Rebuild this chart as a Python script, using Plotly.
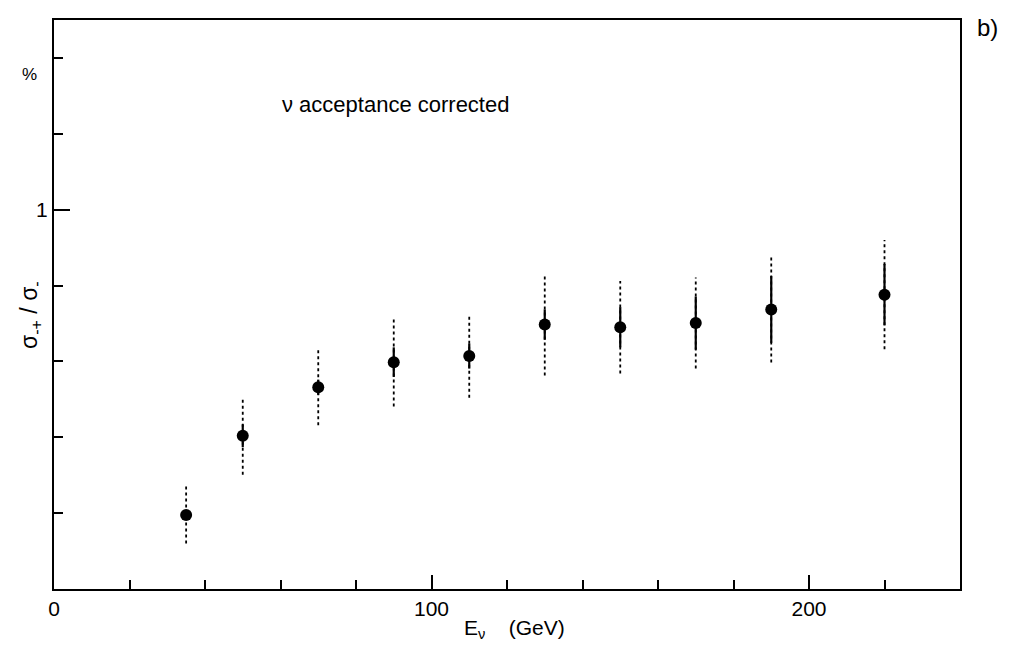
import plotly.graph_objects as go

# Neutrino energy bins (GeV) and measured ratio sigma_-+/sigma_- (%)
energy = [35, 50, 70, 90, 110, 130, 150, 170, 190, 220]
ratio = [0.195, 0.404, 0.532, 0.598, 0.614, 0.697, 0.690, 0.701, 0.737, 0.776]
stat_err = [0.0, 0.030, 0.020, 0.039, 0.033, 0.040, 0.053, 0.070, 0.088, 0.081]
syst_err = [0.075, 0.103, 0.100, 0.117, 0.110, 0.134, 0.122, 0.120, 0.140, 0.144]

x_major = [0, 100, 200]
x_minor = [20, 40, 60, 80, 120, 140, 160, 180, 220]
y_major = [1]
y_minor = [0.2, 0.4, 0.6, 0.8, 1.2, 1.4]

FONT = "Liberation Sans"
INK = "black"

fig = go.Figure()

# dotted bars for the total (systematic) uncertainty
dx, dy = [], []
for x, y, e in zip(energy, ratio, syst_err):
    dx += [x, x, None]
    dy += [y - e, y + e, None]
fig.add_trace(go.Scatter(x=dx, y=dy, mode="lines",
                         line=dict(color=INK, width=1.8, dash="dot"),
                         hoverinfo="skip", showlegend=False))

# solid bars for the statistical uncertainty, then the points
fig.add_trace(go.Scatter(
    x=energy, y=ratio, mode="markers",
    marker=dict(color=INK, size=12, line=dict(width=0)),
    error_y=dict(type="data", array=stat_err, color=INK, thickness=2.2, width=0),
    showlegend=False))

axis_common = dict(showline=True, linecolor=INK, linewidth=2, mirror=True,
                   showgrid=False, zeroline=False, ticks="inside",
                   tickcolor=INK, tickwidth=1.6,
                   tickfont=dict(family=FONT, size=21, color=INK))

fig.update_xaxes(range=[0, 240], tickvals=x_major, ticktext=[str(v) for v in x_major],
                 ticklen=14,
                 minor=dict(tickvals=x_minor, ticks="inside", ticklen=9,
                            tickcolor=INK, tickwidth=1.6),
                 **axis_common)
fig.update_yaxes(range=[0, 1.5], tickvals=y_major, ticktext=["1"],
                 ticklen=16,
                 minor=dict(tickvals=y_minor, ticks="inside", ticklen=9,
                            tickcolor=INK, tickwidth=1.6),
                 **axis_common)

annotations = [
    dict(x=395, y=104, text="ν acceptance corrected", size=22),
    dict(x=514, y=629, text="E<sub>ν</sub>    (GeV)", size=21),
    dict(x=30, y=315, text="σ<sub>-+</sub> / σ<sub>-</sub>", size=23, textangle=-90),
    dict(x=29, y=75, text="%", size=17),
    dict(x=988, y=27, text="b)", size=24),
]

W, H = 1009, 649
L, R, T, B = 54, 49, 20, 60
for a in annotations:
    size = a.pop("size")
    px, py = a.pop("x"), a.pop("y")
    fig.add_annotation(x=(px - L) / (W - L - R), y=1 - (py - T) / (H - T - B),
                       xref="paper", yref="paper", showarrow=False,
                       xanchor="center", yanchor="middle",
                       font=dict(family=FONT, size=size, color=INK), **a)

fig.update_layout(width=W, height=H, margin=dict(l=L, r=R, t=T, b=B),
                  paper_bgcolor="white", plot_bgcolor="white")

fig.write_html("out.html")
